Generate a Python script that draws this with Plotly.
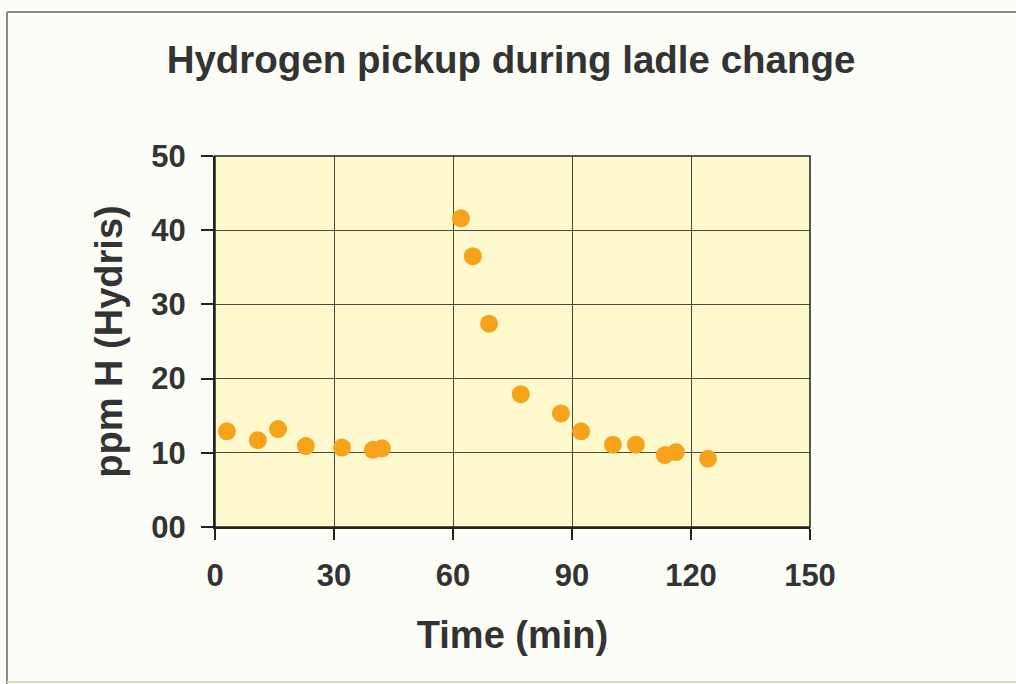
import plotly.graph_objects as go

# Sampling time after ladle change (min) and measured hydrogen (ppm, Hydris probe)
time_min = [3.0, 10.8, 15.9, 22.9, 32.0, 39.8, 42.1, 62.0, 65.0, 69.1,
            77.1, 87.2, 92.3, 100.3, 106.1, 113.4, 116.2, 124.3]
ppm_h = [12.9, 11.7, 13.2, 10.9, 10.7, 10.4, 10.6, 41.6, 36.5, 27.4,
         17.9, 15.3, 12.9, 11.1, 11.1, 9.7, 10.1, 9.2]

x_ticks = [0, 30, 60, 90, 120, 150]
y_ticks = [0, 10, 20, 30, 40, 50]
y_tick_text = ["00", "10", "20", "30", "40", "50"]

FONT = "Liberation Sans, Arial, sans-serif"
TEXT = "#333333"

fig = go.Figure(
    go.Scatter(
        x=time_min,
        y=ppm_h,
        mode="markers",
        marker=dict(size=18, color="#F7A21B", line=dict(width=0)),
        cliponaxis=False,
        showlegend=False,
    )
)

# Slide frame drawn around the chart (paper coords relative to the plot area)
L, R, T, B = 215, 810, 156, 527
def px_x(p):
    return (p - L) / (R - L)
def px_y(p):
    return (B - p) / (B - T)

fig.add_shape(type="line", xref="paper", yref="paper",
              x0=px_x(7), x1=px_x(1016), y0=px_y(12), y1=px_y(12),
              line=dict(color="#8a8a8a", width=2))
fig.add_shape(type="line", xref="paper", yref="paper",
              x0=px_x(7), x1=px_x(7), y0=px_y(12), y1=px_y(684),
              line=dict(color="#8a8a8a", width=2))
fig.add_shape(type="line", xref="paper", yref="paper",
              x0=px_x(7), x1=px_x(1016), y0=px_y(682), y1=px_y(682),
              line=dict(color="#d6dcb4", width=2))

tick_font = dict(family=FONT, size=31, color=TEXT, weight="bold")
axis_title_font = dict(family=FONT, size=38, color=TEXT, weight="bold")

fig.update_layout(
    width=1016,
    height=684,
    margin=dict(l=L, r=1016 - R, t=T, b=684 - B, pad=0),
    paper_bgcolor="#FBFDF6",
    plot_bgcolor="#FEF9CD",
    title=dict(
        text="Hydrogen pickup during ladle change",
        font=dict(family=FONT, size=38.5, color=TEXT, weight="bold"),
        x=0.503, xanchor="center",
        y=1 - 60 / 684, yanchor="middle",
    ),
    xaxis=dict(
        range=[0, 150],
        tickvals=x_ticks,
        ticks="outside", ticklen=11, tickwidth=2, tickcolor="#222222",
        showline=True, linecolor="#222222", linewidth=2, mirror=False,
        showgrid=True, gridcolor="#4a4a3a", gridwidth=1,
        zeroline=False,
        tickfont=tick_font,
        ticklabelstandoff=9,
        title=dict(text="Time (min)", font=axis_title_font, standoff=29),
    ),
    yaxis=dict(
        range=[0, 50],
        tickvals=y_ticks,
        ticktext=y_tick_text,
        ticks="outside", ticklen=12, tickwidth=2, tickcolor="#222222",
        showline=True, linecolor="#222222", linewidth=2, mirror=False,
        showgrid=True, gridcolor="#4a4a3a", gridwidth=1,
        zeroline=False,
        tickfont=tick_font,
        ticklabelstandoff=9,
        title=dict(text="ppm H (Hydris)", font=axis_title_font, standoff=17),
    ),
)

# Right and top border of the plotting area
fig.add_shape(type="rect", xref="paper", yref="paper", x0=0, x1=1, y0=0, y1=1,
              line=dict(color="#222222", width=1.5), layer="above")

fig.write_html("out.html")
